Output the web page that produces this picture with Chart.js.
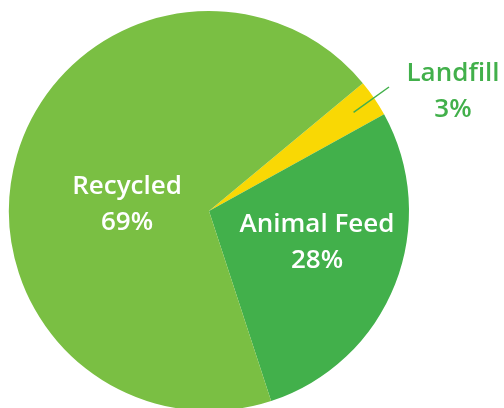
<!DOCTYPE html>
<html>
<head>
<meta charset="utf-8">
<script src="https://cdn.jsdelivr.net/npm/chart.js@4"></script>
<style>
  html, body { margin: 0; padding: 0; background: #fff; overflow: hidden; width: 504px; height: 408px; }
  #wrap { position: relative; width: 504px; height: 416px; }
</style>
</head>
<body>
<div id="wrap"><canvas id="myChart"></canvas></div>
<script>
const labels = ['Landfill', 'Animal Feed', 'Recycled'];
const values = [3, 28, 69];
const colors = ['#f9d804', '#42b04b', '#7abf43'];

// label text placement: offset from pie centre (x, y) and colour
const labelSpots = [
  { dx: 244, dy: -119, color: '#42b04b' },
  { dx: 108, dy: 32, color: '#ffffff' },
  { dx: -82, dy: -6, color: '#ffffff' },
];

const sliceLabels = {
  id: 'sliceLabels',
  afterDatasetsDraw(chart) {
    const ctx = chart.ctx;
    const arcs = chart.getDatasetMeta(0).data;
    const total = values.reduce((a, b) => a + b, 0);
    ctx.save();
    ctx.textAlign = 'center';
    ctx.textBaseline = 'middle';
    ctx.font = '600 26px "Open Sans"';
    arcs.forEach((arc, i) => {
      const spot = labelSpots[i];
      const x = arc.x + spot.dx;
      const y = arc.y + spot.dy;
      ctx.fillStyle = spot.color;
      ctx.fillText(labels[i], x, y - 18);
      ctx.fillText(Math.round(values[i] / total * 100) + '%', x, y + 18);
    });
    // leader line for the small slice
    const a = arcs[0];
    const mid = (a.startAngle + a.endAngle) / 2;
    const r0 = a.outerRadius * 0.875;
    ctx.strokeStyle = '#42b04b';
    ctx.lineWidth = 1.5;
    ctx.beginPath();
    ctx.moveTo(a.x + Math.cos(mid) * r0, a.y + Math.sin(mid) * r0);
    ctx.lineTo(a.x + 180, a.y - 124);
    ctx.stroke();
    ctx.restore();
  }
};

const ctx = document.getElementById('myChart').getContext('2d');
const myChart = new Chart(ctx, {
  type: 'pie',
  data: {
    labels: labels,
    datasets: [
      {
        data: values,
        backgroundColor: colors,
        borderWidth: 0,
      },
    ],
  },
  options: {
    responsive: true,
    maintainAspectRatio: false,
    animation: false,
    rotation: 50.3,
    layout: {
      padding: { left: 9, right: 95, top: 11, bottom: 5 },
    },
    plugins: {
      legend: { display: false },
      tooltip: { enabled: false },
    },
  },
  plugins: [sliceLabels],
});
</script>
</body>
</html>
